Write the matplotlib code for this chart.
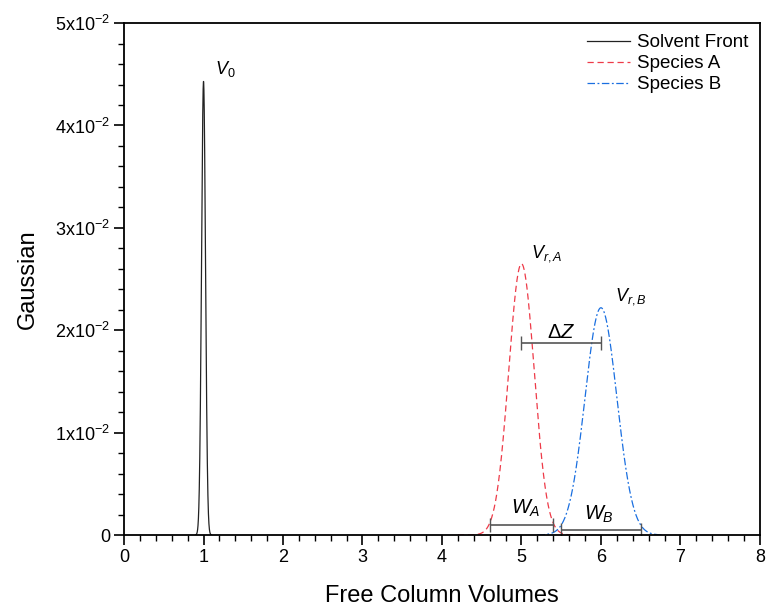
import numpy as np
import matplotlib
matplotlib.use("Agg")
import matplotlib.pyplot as plt
from matplotlib.ticker import MultipleLocator, FuncFormatter

plt.rcParams['font.family'] = ['Liberation Sans', 'DejaVu Sans']
plt.rcParams['mathtext.fontset'] = 'custom'
plt.rcParams['mathtext.rm'] = 'Liberation Sans'
plt.rcParams['mathtext.it'] = 'Liberation Sans:italic'

# peak parameters
names = ["Solvent Front", "Species A", "Species B"]
centers = [1.0, 5.0, 6.0]
heights = [0.0443, 0.0265, 0.0222]
sigmas = [0.025, 0.16, 0.20]
x_lo = [0.9, 4.2, 5.2]
x_hi = [1.1, 5.8, 6.8]
colors = ["#222222", "#ee3a48", "#1a6fe0"]
styles = ["-", (0, (5, 3)), (0, (6, 2, 1.5, 2))]

# width / separation bars
bar_names = ["$\\Delta Z$", "$W_A$", "$W_B$"]
bar_x0 = [5.0, 4.6, 5.5]
bar_x1 = [6.0, 5.4, 6.5]
bar_y = [0.01875, 0.00098, 0.00049]

fig = plt.figure(figsize=(7.68, 6.08), dpi=100)
ax = fig.add_axes([0.1615, 0.12, 0.828, 0.842])

for i in range(3):
    x = np.linspace(x_lo[i], x_hi[i], 500)
    y = heights[i] * np.exp(-0.5 * ((x - centers[i]) / sigmas[i]) ** 2)
    ax.plot(x, y, color=colors[i], linestyle=styles[i], lw=0.9, label=names[i])

for i in range(3):
    xm = (bar_x0[i] + bar_x1[i]) / 2
    ax.errorbar([xm], [bar_y[i]], xerr=[[xm - bar_x0[i]], [bar_x1[i] - xm]],
                fmt="none", ecolor="#555555", elinewidth=1.2, capsize=5, capthick=1.0)

ax.text(5.5, 0.0198, bar_names[0], fontsize=14.5, ha="center", va="center")
ax.text(5.05, 0.0026, bar_names[1], fontsize=14.5, ha="center", va="center")
ax.text(5.98, 0.0020, bar_names[2], fontsize=14.5, ha="center", va="center")
ax.text(1.14, 0.0455, "$V_{\\mathit{0}}$", fontsize=13, ha="left", va="center")
ax.text(5.12, 0.0275, "$V_{r,A}$", fontsize=13, ha="left", va="center")
ax.text(6.18, 0.0233, "$V_{r,B}$", fontsize=13, ha="left", va="center")

ax.set_xlim(0, 8)
ax.set_ylim(0, 0.05)
ax.xaxis.set_major_locator(MultipleLocator(1))
ax.xaxis.set_minor_locator(MultipleLocator(0.2))
ax.yaxis.set_major_locator(MultipleLocator(0.01))
ax.yaxis.set_minor_locator(MultipleLocator(0.002))


def yfmt(v, pos):
    n = int(round(v * 100))
    if n == 0:
        return "0"
    return f"{n}x10$^{{\\mathregular{{-2}}}}$"


ax.yaxis.set_major_formatter(FuncFormatter(yfmt))
ax.tick_params(which="major", length=7, width=1.2, labelsize=13, direction="out", pad=3)
ax.tick_params(which="minor", length=4, width=1.0, direction="out")
for s in ax.spines.values():
    s.set_linewidth(1.3)

ax.set_xlabel("Free Column Volumes", fontsize=17, labelpad=14)
ax.set_ylabel("Gaussian", fontsize=17, labelpad=12)

ax.legend(loc="upper right", frameon=False, fontsize=13.5, handlelength=2.3,
          borderaxespad=0.2, labelspacing=0.2, handletextpad=0.4)

fig.savefig("out.png", dpi=100)
